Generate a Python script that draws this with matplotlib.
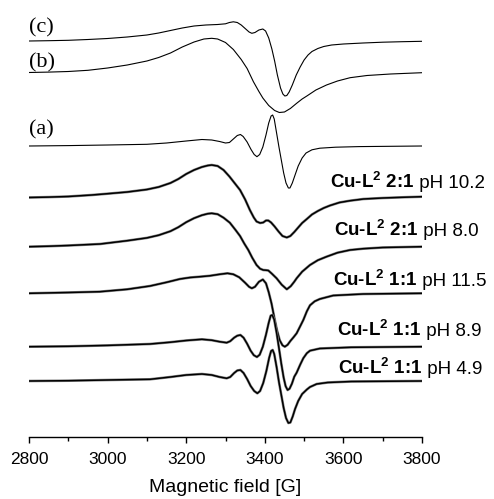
import matplotlib
matplotlib.use('Agg')
import matplotlib.pyplot as plt
from matplotlib.offsetbox import TextArea, HPacker, AnnotationBbox

plt.rcParams['mathtext.fontset'] = 'custom'
plt.rcParams['mathtext.bf'] = 'Liberation Sans:bold'
plt.rcParams['mathtext.rm'] = 'Liberation Sans'

# EPR spectra; signal is relative to each trace's baseline (arb. units)
field_c = [2800, 2850, 2900, 2950, 3000, 3050, 3100, 3130, 3160, 3190, 3220, 3250, 3280, 3300,
           3310, 3320, 3330, 3340, 3350, 3360, 3367, 3375, 3385, 3395, 3402, 3410, 3418, 3425,
           3432, 3440, 3446, 3451, 3456, 3462, 3470, 3480, 3490, 3500, 3510, 3520, 3535, 3550,
           3570, 3600, 3650, 3700, 3750, 3800]
sig_c = [0, 0.3, 0.7, 1.5, 2.5, 4, 6, 8, 10.5, 13, 15, 16, 16.5, 17.2,
         18.5, 19.2, 18.5, 16, 12.5, 9, 7.7, 8.5, 11, 12, 10, 3, -8, -20,
         -34, -47, -53, -55, -54.5, -51, -44, -34, -26, -19, -14, -10.5, -7.5, -5.5,
         -4, -3, -2, -1.2, -0.7, -0.3]

field_b = [2800, 2850, 2900, 2950, 3000, 3050, 3100, 3130, 3160, 3190, 3220, 3245, 3265, 3280,
           3300, 3320, 3340, 3355, 3371, 3385, 3395, 3410, 3425, 3437, 3450, 3465, 3481, 3495,
           3507, 3530, 3557, 3585, 3617, 3660, 3720, 3800]
sig_b = [0, 0.4, 1, 2.2, 4.5, 7.5, 11.5, 15, 19.5, 25.5, 30.5, 33.5, 34.2, 33.5,
         30, 23, 13, 4, -9.2, -19, -25.5, -33, -38, -40, -39.5, -36, -30.8, -26.5,
         -23.5, -17.5, -12.5, -8.5, -5.2, -3, -1.5, -0.2]

field_a = [2800, 2900, 3000, 3100, 3150, 3200, 3240, 3265, 3285, 3300, 3310, 3320, 3330, 3338,
           3345, 3355, 3365, 3373, 3380, 3387, 3395, 3403, 3410, 3416, 3420, 3424, 3430, 3436,
           3442, 3448, 3454, 3460, 3464, 3470, 3477, 3485, 3495, 3505, 3520, 3540, 3580, 3640, 3800]
sig_a = [0, 0.4, 1, 1.7, 3, 5, 6.5, 6, 4.5, 3, 3.5, 7, 10.5, 11.5,
         9.5, 4, -3.5, -8.5, -10.7, -8.5, -1, 11, 23, 30, 31, 27, 13, -1,
         -14, -27, -37, -42, -42, -37, -29, -20, -12, -7, -3.8, -2.2, -1.2, -0.6, 0]

field_21_102 = [2800, 2850, 2900, 2960, 3000, 3050, 3100, 3130, 3160, 3180, 3200, 3220, 3240, 3255,
                3265, 3280, 3295, 3310, 3325, 3337, 3350, 3362, 3372, 3379, 3388, 3396, 3403, 3409,
                3416, 3425, 3435, 3445, 3456, 3465, 3475, 3485, 3495, 3507, 3520, 3535, 3550, 3566,
                3590, 3617, 3651, 3700, 3750, 3800]
sig_21_102 = [0, 0.4, 1, 2.5, 3.8, 5.5, 8, 10.5, 14.5, 18.5, 23.5, 27.5, 30.5, 32,
              32.5, 31.5, 27.5, 21, 13.5, 7.5, -2, -12.5, -20, -24, -25.5, -25, -23, -23,
              -25, -29, -34, -38.5, -40, -38.5, -34.5, -30, -25.5, -21.5, -17, -13.5, -10.5, -8,
              -5, -3.2, -1.5, -0.5, 0.2, 0.8]

field_21_80 = [2800, 2850, 2900, 2981, 3050, 3100, 3130, 3160, 3180, 3200, 3220, 3240, 3255, 3265,
               3280, 3295, 3311, 3325, 3337, 3348, 3358, 3368, 3379, 3388, 3396, 3403, 3409, 3418,
               3430, 3443, 3456, 3466, 3475, 3481, 3495, 3515, 3535, 3557, 3585, 3617, 3650, 3700, 3800]
sig_21_80 = [0, 0.5, 1.2, 2.7, 6, 8.8, 11.5, 15.5, 19.5, 24.5, 28.5, 31.5, 33, 33.4,
             32.5, 29, 24, 17, 10.7, 3, -3.3, -11, -18.3, -22, -23.3, -23.5, -23.8, -27,
             -31.6, -38, -42.6, -39.5, -35, -31.6, -25, -18.3, -13.5, -10, -6, -3.3, -2, -0.8, 0]

field_11_115 = [2800, 2900, 2980, 3050, 3108, 3150, 3184, 3210, 3235, 3260, 3285, 3305, 3320, 3335,
                3350, 3360, 3367, 3375, 3385, 3395, 3403, 3410, 3417, 3424, 3431, 3438, 3445, 3451,
                3458, 3465, 3473, 3481, 3490, 3498, 3507, 3515, 3527, 3540, 3574, 3650, 3800]
sig_11_115 = [0, 0.8, 1.6, 4, 7.3, 11, 14.3, 15.8, 16.6, 17.5, 19, 20, 19, 16,
              10.5, 6.5, 5, 6.5, 11.5, 13.8, 10, 1, -10, -24, -37, -47, -52, -53.4,
              -51.5, -47.7, -44, -40, -33, -26.7, -18, -12, -8, -5.7, -2.2, -0.7, 0]

field_11_89 = [2800, 2900, 3000, 3108, 3160, 3200, 3240, 3265, 3285, 3303, 3312, 3322, 3330, 3338,
               3346, 3355, 3364, 3372, 3380, 3387, 3395, 3403, 3410, 3415, 3419, 3424, 3430, 3436,
               3442, 3448, 3453, 3458, 3463, 3469, 3475, 3481, 3490, 3498, 3507, 3515, 3540, 3620, 3800]
sig_11_89 = [0, 0.4, 1.3, 2.7, 4.5, 6.2, 7.4, 6.5, 5, 4, 5.5, 9, 11, 11.7,
             9, 3, -4, -8.5, -10.3, -8, 0, 12, 24, 31, 31.7, 27, 14, -1.3,
             -17, -31, -39.5, -43.3, -42, -37, -30, -26, -18, -11.5, -6.5, -4, -1.8, -0.6, 0]

field_11_49 = [2800, 2900, 3000, 3108, 3160, 3200, 3240, 3265, 3285, 3303, 3312, 3322, 3330, 3338,
               3346, 3355, 3364, 3373, 3381, 3388, 3396, 3404, 3411, 3416, 3420, 3424, 3430, 3436,
               3442, 3448, 3454, 3460, 3465, 3471, 3477, 3485, 3495, 3507, 3515, 3532, 3560, 3620, 3800]
sig_11_49 = [0, 0.3, 1, 1.7, 4, 6, 7, 6, 4, 2.7, 4, 8, 10.5, 11,
             8, 2, -5, -10, -12.3, -10, -2, 10, 23, 30, 31, 27, 14, -1,
             -14, -27, -37, -42, -41.5, -35.5, -28, -20, -13, -8.5, -6, -3, -1.5, -0.5, 0]

sim_traces = [(field_c, sig_c), (field_b, sig_b), (field_a, sig_a)]
sim_offsets = [396, 364.5, 291]
sim_labels = ['(c)', '(b)', '(a)']
sim_label_y = [409, 374, 307]

exp_traces = [(field_21_102, sig_21_102), (field_21_80, sig_21_80), (field_11_115, sig_11_115),
              (field_11_89, sig_11_89), (field_11_49, sig_11_49)]
exp_offsets = [239.5, 190.3, 143.7, 90.3, 56]
exp_ratio = ['2:1', '2:1', '1:1', '1:1', '1:1']
exp_ph = ['pH 10.2', 'pH 8.0', 'pH 11.5', 'pH 8.9', 'pH 4.9']

fig = plt.figure(figsize=(4.94, 4.99), dpi=100)
ax = fig.add_axes([29 / 494, 62 / 499, 393 / 494, 437 / 499])

for (f, s), off, lab, ly in zip(sim_traces, sim_offsets, sim_labels, sim_label_y):
    ax.plot(f, [v + off for v in s], color='black', lw=0.8, solid_joinstyle='round')
    ax.text(2800, ly, lab, fontsize=16, family='Liberation Serif', ha='left', va='center')

for (f, s), off in zip(exp_traces, exp_offsets):
    y = [v + off for v in s]
    ax.plot(f, y, color='#8a8a8a', lw=1.9, solid_joinstyle='round')
    ax.plot(f, y, color='black', lw=1.1, solid_joinstyle='round')

# labels at the right: 'Cu-L2 x:y' bold, then plain pH
label_x = [330, 334, 333, 337, 338]
label_y = [182, 230, 280, 330, 368]
for ratio, ph, px, py in zip(exp_ratio, exp_ph, label_x, label_y):
    bold = TextArea(r'Cu-L$^\mathbf{2}$ ' + ratio,
                    textprops=dict(fontsize=13.5, fontweight='bold', family='Liberation Sans'))
    plain = TextArea(' ' + ph, textprops=dict(fontsize=13.5, family='Liberation Sans'))
    box = HPacker(children=[bold, plain], sep=0, pad=0, align='baseline')
    ab = AnnotationBbox(box, (px / 494, 1 - py / 499), xycoords='figure fraction',
                        box_alignment=(0, 0.5), frameon=False, pad=0, annotation_clip=False)
    ax.add_artist(ab)

ax.set_xlim(2800, 3800)
ax.set_ylim(0, 437)
for side in ['left', 'top', 'right']:
    ax.spines[side].set_visible(False)
ax.spines['bottom'].set_linewidth(1.0)
ax.set_yticks([])
ax.set_xticks(range(2800, 3801, 200))
ax.set_xticks(range(2900, 3800, 200), minor=True)
ax.tick_params(axis='x', which='major', direction='out', length=4.5, width=1.0,
               labelsize=12.5, pad=6)
ax.tick_params(axis='x', which='minor', direction='out', length=3, width=1.0)
for t in ax.get_xticklabels():
    t.set_family('Liberation Sans')
ax.set_xlabel('Magnetic field [G]', fontsize=14, family='Liberation Sans', labelpad=9)

fig.savefig('out.png', dpi=100)
